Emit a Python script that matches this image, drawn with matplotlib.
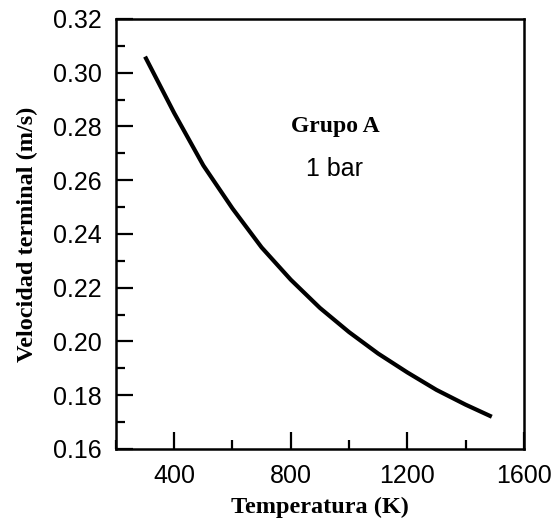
import matplotlib
matplotlib.use("Agg")
import matplotlib.pyplot as plt
from matplotlib.ticker import MultipleLocator

temperature_K = [300, 350, 400, 500, 600, 700, 800, 900, 1000, 1100, 1200, 1300, 1400, 1490]
velocity_ms = [0.306, 0.2955, 0.285, 0.2655, 0.2495, 0.235, 0.223, 0.2125, 0.2035,
               0.1955, 0.1885, 0.182, 0.1765, 0.172]
x_ticks = [400, 800, 1200, 1600]
y_ticks = [0.16, 0.18, 0.20, 0.22, 0.24, 0.26, 0.28, 0.30, 0.32]

serif = ["Liberation Serif", "DejaVu Serif"]
sans = ["Liberation Sans", "DejaVu Sans"]

fig = plt.figure(figsize=(5.52, 5.23), dpi=100)
ax = fig.add_axes([0.210, 0.1415, 0.739, 0.8222])

ax.plot(temperature_K, velocity_ms, color="black", lw=3.0, solid_capstyle="butt",
        solid_joinstyle="round")

ax.set_xlim(200, 1600)
ax.set_ylim(0.16, 0.32)
ax.set_xticks(x_ticks)
ax.set_yticks(y_ticks)
ax.xaxis.set_minor_locator(MultipleLocator(200))
ax.yaxis.set_minor_locator(MultipleLocator(0.01))
ax.set_xticklabels([str(t) for t in x_ticks], family=sans, fontsize=18)
ax.set_yticklabels([f"{v:.2f}" for v in y_ticks], family=sans, fontsize=18)

ax.tick_params(which="both", direction="in", top=False, right=False, width=1.6, color="black")
ax.tick_params(which="major", length=12)
ax.tick_params(which="minor", length=6.5)
ax.tick_params(axis="x", which="major", pad=11)
ax.tick_params(axis="y", which="major", pad=10)

for s in ax.spines.values():
    s.set_linewidth(1.8)
    s.set_color("black")

ax.set_xlabel("Temperatura (K)", family=serif, fontweight="bold", fontsize=17.5, labelpad=6)
ax.set_ylabel("Velocidad terminal (m/s)", family=serif, fontweight="bold", fontsize=17.5, labelpad=11)

ax.text(0.539, 0.751, "Grupo A", transform=ax.transAxes, ha="center", va="center",
        family=serif, fontweight="bold", fontsize=17)
ax.text(0.537, 0.651, "1 bar", transform=ax.transAxes, ha="center", va="center",
        family=sans, fontsize=18)

fig.savefig("out.png", dpi=100)
